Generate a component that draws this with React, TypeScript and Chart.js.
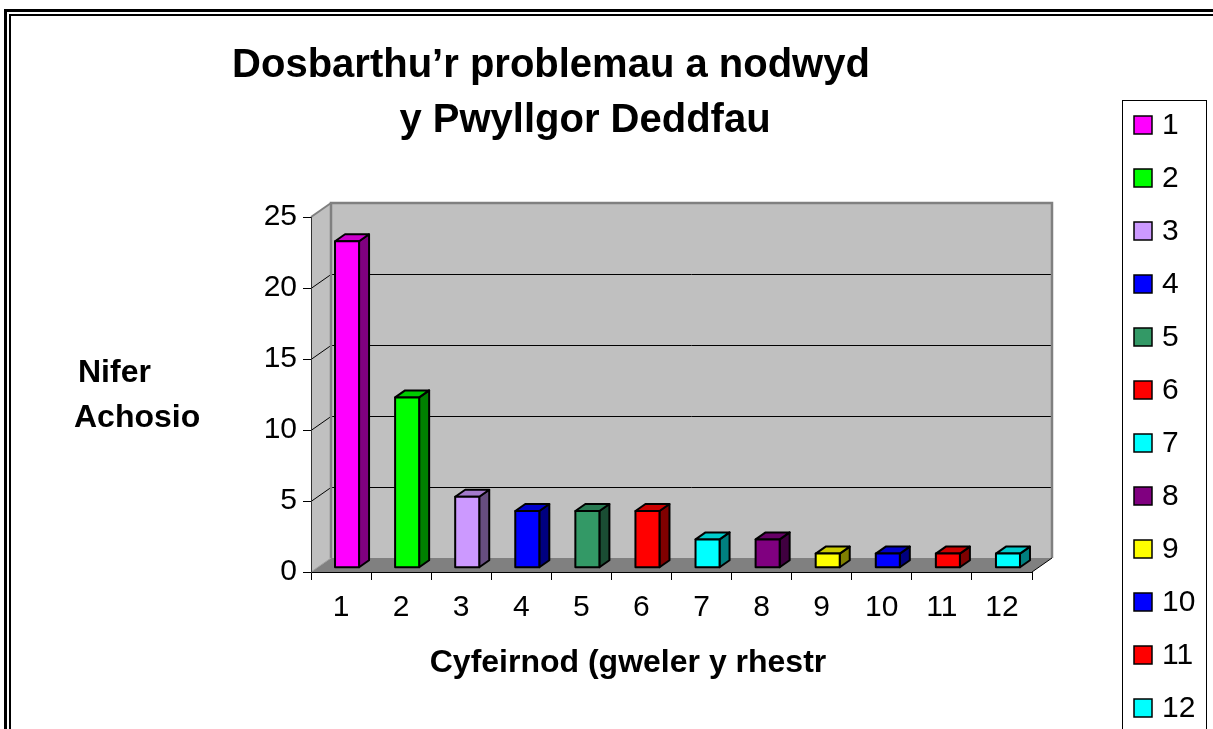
import React, { useEffect, useRef } from "react";
import { Chart, registerables } from "chart.js";

Chart.register(...registerables);

const categories = ["1", "2", "3", "4", "5", "6", "7", "8", "9", "10", "11", "12"];
const values = [23, 12, 5, 4, 4, 4, 2, 2, 1, 1, 1, 1];
const barColors = [
  "#FF00FF", "#00FF00", "#CC99FF", "#0000FF", "#339966", "#FF0000",
  "#00FFFF", "#800080", "#FFFF00", "#0000FF", "#FF0000", "#00FFFF",
];
const yMax = 25;
const yStep = 5;
const titleLines = ["Dosbarthu’r problemau a nodwyd", "y Pwyllgor Deddfau"];
const yTitleLines = ["Nifer", "Achosio"];
const xTitle = "Cyfeirnod (gweler y rhestr";

const FONT = "'Liberation Sans', Arial, sans-serif";
const DX = 20;
const DY = -14;
const BAR_SHIFT = 0.3;
const BAR_DEPTH = 0.5;

function shade(hex: string, f: number): string {
  const n = parseInt(hex.slice(1), 16);
  const r = Math.round(((n >> 16) & 255) * f);
  const g = Math.round(((n >> 8) & 255) * f);
  const b = Math.round((n & 255) * f);
  return `rgb(${r},${g},${b})`;
}

function poly(ctx: CanvasRenderingContext2D, pts: number[][], fill?: string, stroke?: string, lw = 1) {
  ctx.beginPath();
  ctx.moveTo(pts[0][0], pts[0][1]);
  for (let i = 1; i < pts.length; i++) ctx.lineTo(pts[i][0], pts[i][1]);
  ctx.closePath();
  if (fill) {
    ctx.fillStyle = fill;
    ctx.fill();
  }
  if (stroke) {
    ctx.strokeStyle = stroke;
    ctx.lineWidth = lw;
    ctx.stroke();
  }
}

function line(ctx: CanvasRenderingContext2D, pts: number[][], color: string, lw = 1) {
  ctx.beginPath();
  ctx.moveTo(pts[0][0], pts[0][1]);
  for (let i = 1; i < pts.length; i++) ctx.lineTo(pts[i][0], pts[i][1]);
  ctx.strokeStyle = color;
  ctx.lineWidth = lw;
  ctx.stroke();
}

const decorPlugin = {
  id: "decor3d",
  beforeDraw(chart: any) {
    const ctx: CanvasRenderingContext2D = chart.ctx;
    const W = chart.width;
    const H = chart.height;
    ctx.save();
    ctx.fillStyle = "#fff";
    ctx.fillRect(0, 0, W, H);
    // outer double frame
    ctx.strokeStyle = "#000";
    ctx.lineWidth = 3;
    ctx.strokeRect(5.5, 10.5, W + 20, H + 20);
    ctx.lineWidth = 2;
    ctx.strokeRect(10, 15, W + 20, H + 20);
    // legend box
    ctx.lineWidth = 1;
    ctx.strokeStyle = "#000";
    ctx.strokeRect(1122.5, 100.5, 84, H);

    const { left, right, top, bottom } = chart.chartArea;
    const ys = chart.scales.y;
    // left wall
    poly(ctx, [[left, bottom], [left, top], [left + DX, top + DY], [left + DX, bottom + DY]], "#C0C0C0");
    // back wall
    poly(ctx, [[left + DX, top + DY], [right + DX, top + DY], [right + DX, bottom + DY], [left + DX, bottom + DY]], "#C0C0C0");
    // floor
    poly(ctx, [[left, bottom], [right, bottom], [right + DX, bottom + DY], [left + DX, bottom + DY]], "#808080");
    // gridlines
    for (let v = yStep; v < yMax; v += yStep) {
      const y = Math.round(ys.getPixelForValue(v)) + 0.5;
      line(ctx, [[left, y], [left + DX, y + DY], [right + DX, y + DY]], "#000", 1);
    }
    // wall borders
    line(ctx, [[left + DX, bottom + DY], [left + DX, top + DY], [right + DX, top + DY], [right + DX, bottom + DY]], "#808080", 2.5);
    line(ctx, [[left, top], [left + DX, top + DY]], "#808080", 2);
    line(ctx, [[left, bottom], [left + DX, bottom + DY]], "#A0A0A0", 1);
    line(ctx, [[right, bottom], [right + DX, bottom + DY]], "#000", 1);
    ctx.restore();
  },
  beforeDatasetDraw() {
    return false;
  },
  afterDatasetsDraw(chart: any) {
    const ctx: CanvasRenderingContext2D = chart.ctx;
    const meta = chart.getDatasetMeta(0);
    const sx = DX * BAR_SHIFT;
    const sy = DY * BAR_SHIFT;
    const ddx = DX * BAR_DEPTH;
    const ddy = DY * BAR_DEPTH;
    ctx.save();
    ctx.lineJoin = "round";
    meta.data.forEach((el: any, i: number) => {
      const { x, y, base, width } = el.getProps(["x", "y", "base", "width"], true);
      const c = barColors[i];
      const x0 = x - width / 2 + sx;
      const x1 = x + width / 2 + sx;
      const yt = y + sy;
      const yb = base + sy;
      poly(ctx, [[x1, yb], [x1, yt], [x1 + ddx, yt + ddy], [x1 + ddx, yb + ddy]], shade(c, 0.5), "#000", 2);
      poly(ctx, [[x0, yt], [x1, yt], [x1 + ddx, yt + ddy], [x0 + ddx, yt + ddy]], shade(c, 0.8), "#000", 2);
      poly(ctx, [[x0, yb], [x0, yt], [x1, yt], [x1, yb]], c, "#000", 2);
    });
    ctx.restore();
  },
  afterDraw(chart: any) {
    const ctx: CanvasRenderingContext2D = chart.ctx;
    ctx.save();
    ctx.fillStyle = "#000";
    ctx.textBaseline = "middle";
    ctx.textAlign = "center";
    ctx.font = `bold 40px ${FONT}`;
    ctx.fillText(titleLines[0], 551, 66);
    ctx.fillText(titleLines[1], 585, 121);
    ctx.font = `bold 32px ${FONT}`;
    ctx.textAlign = "left";
    ctx.fillText(yTitleLines[0], 78, 373);
    ctx.fillText(yTitleLines[1], 74, 418);
    ctx.textAlign = "center";
    ctx.fillText(xTitle, 628, 663);
    // legend
    ctx.font = `30px ${FONT}`;
    ctx.textAlign = "left";
    categories.forEach((lab, i) => {
      const cy = 125 + 53 * i;
      ctx.fillStyle = barColors[i];
      ctx.fillRect(1134, cy - 9, 18, 18);
      ctx.strokeStyle = "#000";
      ctx.lineWidth = 1.5;
      ctx.strokeRect(1134, cy - 9, 18, 18);
      ctx.fillStyle = "#000";
      ctx.fillText(lab, 1162, cy + 1);
    });
    ctx.restore();
  },
};

export default function App() {
  const ref = useRef<HTMLCanvasElement | null>(null);
  useEffect(() => {
    if (!ref.current) return;
    Chart.defaults.font.family = FONT;
    const chart = new Chart(ref.current, {
      type: "bar",
      data: {
        labels: categories,
        datasets: [
          {
            label: "Nifer",
            data: values,
            backgroundColor: barColors,
            barPercentage: 0.4,
            categoryPercentage: 1,
          },
        ],
      },
      options: {
        responsive: false,
        animation: false,
        events: [],
        layout: { padding: { left: 0, right: 181, top: 217, bottom: 97 } },
        plugins: { legend: { display: false }, title: { display: false }, tooltip: { enabled: false } },
        scales: {
          x: {
            offset: true,
            grid: { offset: true, drawOnChartArea: false, drawTicks: true, tickLength: 8, color: "#000" },
            border: { display: true, color: "#000", width: 1 },
            ticks: { color: "#000", font: { size: 30, family: FONT }, padding: 10, maxRotation: 0 },
            afterFit: (s: any) => {
              s.height = 60;
            },
          },
          y: {
            min: 0,
            max: yMax,
            ticks: { stepSize: yStep, color: "#000", font: { size: 30, family: FONT }, padding: 6 },
            grid: { drawOnChartArea: false, drawTicks: true, tickLength: 8, color: "#000" },
            border: { display: true, color: "#333", width: 1 },
            afterFit: (s: any) => {
              s.width = 311;
            },
          },
        },
      },
      plugins: [decorPlugin],
    });
    return () => chart.destroy();
  }, []);
  return (
    <div style={{ position: "absolute", left: 0, top: 0, width: 1213, height: 729 }}>
      <canvas ref={ref} width={1213} height={729} style={{ display: "block", width: 1213, height: 729 }} />
    </div>
  );
}
